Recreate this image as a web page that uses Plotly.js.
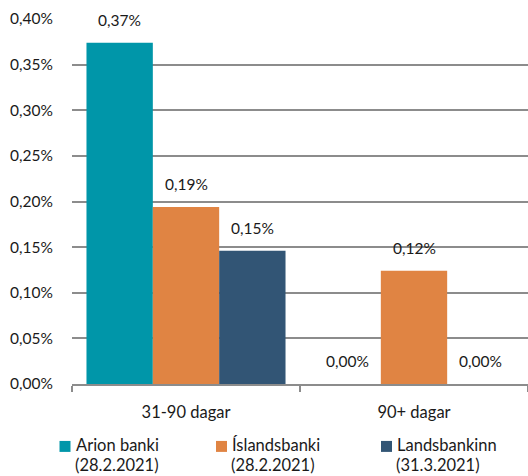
<!DOCTYPE html>
<html><head><meta charset="utf-8">
<script src="https://cdn.plot.ly/plotly-3.0.1.min.js"></script>
<style>html,body{margin:0;padding:0;background:#fff}#chart{width:528px;height:476px}</style>
</head><body><div id="chart"></div>
<script>
const categories = ["31-90 dagar", "90+ dagar"];
const seriesNames = ["Arion banki", "Íslandsbanki", "Landsbankinn"];
const seriesDates = ["(28.2.2021)", "(28.2.2021)", "(31.3.2021)"];
const arion = [0.00374, 0.0];
const islandsbanki = [0.00194, 0.00124];
const landsbankinn = [0.00146, 0.0];
const yTicks = [0, 0.0005, 0.001, 0.0015, 0.002, 0.0025, 0.003, 0.0035, 0.004];
const colors = ["#0096A9", "#E08443", "#325575"];

const series = [arion, islandsbanki, landsbankinn];
const W = 528, H = 476;
const M = {l: 72, r: 0, t: 18.5, b: 92};
const plotW = W - M.l - M.r, plotH = H - M.t - M.b;
const px2x = p => (p - M.l) / plotW;
const py2y = p => (H - M.b - p) / plotH;

const bargap = 0.127;
const barW = (1 - bargap) / series.length;
const numFont = {family: "Lato, 'Open Sans', sans-serif", size: 15.5, color: "#1a1a1a"};
const txtFont = {family: "Lato, 'Open Sans', sans-serif", size: 16.5, color: "#1a1a1a"};

const traces = series.map((vals, i) => ({
  type: "bar", x: categories, y: vals, name: seriesNames[i],
  marker: {color: colors[i]}, hoverinfo: "skip", showlegend: false
}));

const fmt = v => (v * 100).toFixed(2).replace(".", ",") + "%";
const annotations = [];
series.forEach((vals, i) => {
  vals.forEach((v, c) => {
    annotations.push({
      xref: "x", yref: "y", x: c + (i - 1) * barW, y: v,
      text: fmt(v), showarrow: false, yshift: 23, font: numFont
    });
  });
});

// manual legend
const legendX = [59.5, 216, 381];
const shapes = [];
series.forEach((s, i) => {
  shapes.push({type: "rect", xref: "paper", yref: "paper",
    x0: px2x(legendX[i]), x1: px2x(legendX[i] + 11),
    y0: py2y(452), y1: py2y(441),
    fillcolor: colors[i], line: {width: 0}});
  annotations.push({xref: "paper", yref: "paper", x: px2x(legendX[i] + 14), y: py2y(445.5),
    xanchor: "left", yanchor: "middle", text: seriesNames[i], showarrow: false, font: txtFont});
  annotations.push({xref: "paper", yref: "paper", x: px2x(legendX[i] + 13), y: py2y(465),
    xanchor: "left", yanchor: "middle", text: seriesDates[i], showarrow: false, font: txtFont});
});

const layout = {
  width: W, height: H,
  margin: {l: M.l, r: M.r, t: M.t, b: M.b, autoexpand: false},
  paper_bgcolor: "#fff", plot_bgcolor: "#fff",
  separators: ", ",
  font: numFont,
  barmode: "group", bargap: bargap, bargroupgap: 0,
  showlegend: false,
  xaxis: {type: "category", showgrid: false, showline: true, linecolor: "#8c8c8c", linewidth: 2,
          ticks: "outside", tickson: "boundaries", ticklen: 6, tickcolor: "#8c8c8c", tickwidth: 2,
          ticklabelstandoff: 12, tickfont: txtFont, range: [-0.5, 1.5]},
  yaxis: {range: [0, 0.004], tickvals: yTicks, tickformat: ".2%", showgrid: true,
          gridcolor: "#8c8c8c", gridwidth: 2, zeroline: false, showline: false,
          ticks: "", ticklabelstandoff: 18, tickfont: numFont},
  shapes: shapes,
  annotations: annotations
};
Plotly.newPlot("chart", traces, layout, {displayModeBar: false, staticPlot: true});
</script></body></html>
